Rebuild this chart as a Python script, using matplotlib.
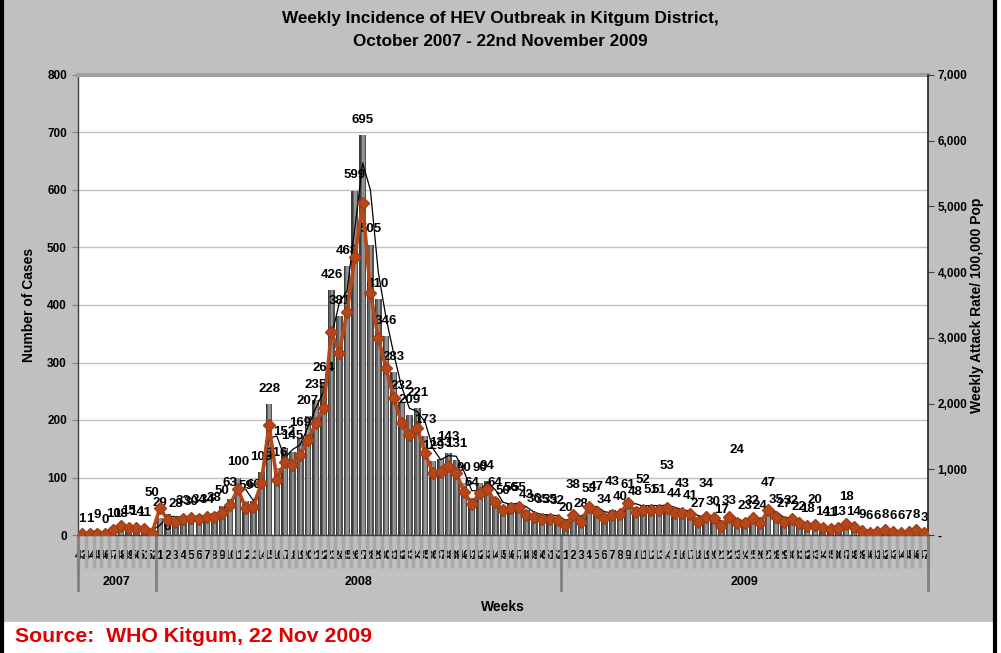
import numpy as np
import pandas as pd
import matplotlib
matplotlib.use("Agg")
import matplotlib.pyplot as plt
from matplotlib.colors import LinearSegmentedColormap
from matplotlib.patches import Rectangle
from matplotlib.lines import Line2D
import matplotlib.transforms as mtransforms

plt.rcParams['font.family'] = ['Liberation Sans', 'DejaVu Sans']

# ---------------- data ----------------
years = ["2007", "2008", "2009"]
weeks_2007 = list(range(43, 53))
weeks_2008 = list(range(1, 53))
weeks_2009 = list(range(1, 48))

cases_2007 = [1, 1, 9, 0, 10, 18, 15, 14, 11, 5]
cases_2008 = [29, 36, 28, 33, 30, 34, 34, 38, 50, 63,
              100, 59, 60, 109, 228, 116, 152, 145, 169, 207,
              235, 264, 426, 381, 468, 599, 695, 505, 410, 346,
              283, 232, 209, 221, 173, 129, 133, 143, 131, 90,
              64, 90, 94, 64, 50, 56, 55, 43, 36, 35,
              35, 32]
cases_2009 = [20, 38, 28, 53, 47, 34, 43, 40, 61, 48,
              52, 51, 51, 53, 44, 43, 41, 27, 34, 30,
              17, 33, 24, 23, 32, 24, 47, 35, 27, 32,
              22, 18, 20, 14, 11, 13, 18, 14, 9, 6,
              6, 8, 6, 6, 7, 8, 3]

attack_2007 = [15, 15, 15, 15, 76, 137, 107, 107, 91, 30]
attack_2008 = [411, 228, 198, 243, 259, 243, 274, 274, 335, 457,
               700, 411, 426, 791, 1674, 837, 1111, 1065, 1218, 1440,
               1704, 1933, 3089, 2770, 3393, 4230, 5052, 3683, 2998, 2541,
               2085, 1704, 1522, 1628, 1248, 944, 959, 1050, 944, 654,
               472, 639, 700, 502, 380, 411, 426, 304, 274, 243,
               243, 228]
attack_2009 = [152, 304, 198, 426, 350, 259, 304, 320, 487, 350,
               380, 380, 380, 411, 335, 335, 320, 198, 274, 259,
               137, 274, 183, 183, 259, 183, 380, 274, 198, 243,
               183, 137, 152, 107, 91, 107, 167, 122, 61, 30,
               46, 76, 46, 30, 46, 76, 30]

# labels that were moved by hand in the original: index -> (text, extra offset in points)
label_overrides = {5: ("18", -3), 9: ("50", 17), 11: ("6", -20), 63: ("38", 9),
                   66: ("47", 4), 68: ("43", 9), 72: ("52", 7), 75: ("53", 17),
                   77: ("43", 8), 80: ("34", 12), 84: ("24", 40), 88: ("47", 7),
                   94: ("20", 6), 98: ("18", 9)}

week_labels = weeks_2007 + weeks_2008 + weeks_2009
cases = np.array(cases_2007 + cases_2008 + cases_2009, dtype=float)
attack = np.array(attack_2007 + attack_2008 + attack_2009, dtype=float)
n = len(cases)
x = np.arange(n)
year_bounds = [0, len(weeks_2007), len(weeks_2007) + len(weeks_2008), n]

# ---------------- figure ----------------
W, H = 1001, 653
fig = plt.figure(figsize=(W / 100, H / 100), dpi=100, facecolor="white")
fig.add_artist(Rectangle((4 / W, 1 - 622 / H), (993 - 4) / W, 622 / H,
                         transform=fig.transFigure, facecolor="#C0C0C0",
                         edgecolor="none", zorder=-10))
fig.add_artist(Line2D([2 / W, 2 / W], [0, 1], color="black", lw=3, transform=fig.transFigure))
fig.add_artist(Line2D([995 / W, 995 / W], [0, 1], color="black", lw=3, transform=fig.transFigure))

L, R, T, B = 78, 928, 75, 535
ax = fig.add_axes([L / W, 1 - B / H, (R - L) / W, (B - T) / H])
ax.set_facecolor("white")

# bars: solid dark base plus cylindrical highlight slices on top
bw = 0.86
ax.bar(x, cases, width=bw, color="#4a4a4a", edgecolor="none", linewidth=0, zorder=2)
cmap = LinearSegmentedColormap.from_list(
    "cyl", [(0, "#2a2a2a"), (0.35, "#6c6c6c"), (0.6, "#b0b0b0"), (0.85, "#606060"), (1, "#2e2e2e")])
k = 5
for j in range(k):
    off = -bw / 2 + (j + 0.5) * bw / k
    ax.bar(x + off, cases, width=bw / k, color=cmap((j + 0.5) / k),
           edgecolor="none", linewidth=0, zorder=2.1)

# 2-period moving average trendline of cases
ma = pd.Series(cases).rolling(2).mean()
ax.plot(x, ma, color="black", lw=0.9, zorder=4)

ax.set_xlim(-0.5, n - 0.5)
ax.set_ylim(0, 800)
ax.set_yticks(np.arange(0, 801, 100))
ax.yaxis.grid(True, color="#C0C0C0", lw=1)
ax.set_axisbelow(True)
for lab in ax.get_yticklabels():
    lab.set_fontweight("bold")
ax.tick_params(axis="y", labelsize=8.5, length=4, color="#808080", pad=4)

# data labels
for xi, v in zip(x, cases):
    text, dy = label_overrides.get(xi, (f"{int(v)}", 0))
    ax.annotate(text, (xi, v), xytext=(0, 11 + dy), textcoords="offset points",
                ha="center", va="center", fontsize=9.5, fontweight="bold",
                color="black", zorder=6, annotation_clip=False)

# x axis: week numbers
ax.set_xticks(x)
ax.set_xticklabels([str(w) for w in week_labels], fontsize=9, fontweight="bold")
ax.tick_params(axis="x", which="major", length=0, pad=11)
ax.set_xticks(np.arange(-0.5, n, 1), minor=True)
ax.tick_params(axis="x", which="minor", length=24, width=2.5, color="#A8A8A8", direction="out")

for side in ["left", "bottom"]:
    ax.spines[side].set_color("#404040")
    ax.spines[side].set_linewidth(1)
ax.spines["top"].set_color("#A0A0A0")
ax.spines["top"].set_linewidth(3)
ax.spines["right"].set_visible(False)

# year row
trans = mtransforms.blended_transform_factory(ax.transData, ax.transAxes)
axh = B - T
for kk in range(4):
    xb = year_bounds[kk] - 0.5
    ax.plot([xb, xb], [0, -(590 - B) / axh], color="#808080", lw=2,
            transform=trans, clip_on=False, zorder=1)
for kk, yr in enumerate(years):
    xm = (year_bounds[kk] + year_bounds[kk + 1] - 1) / 2
    ax.text(xm, -(582 - B) / axh, yr, transform=trans, ha="center", va="center",
            fontsize=9, fontweight="bold")

ax.set_ylabel("Number of Cases", fontsize=10, fontweight="bold", labelpad=8)
fig.text((L + R) / 2 / W, 1 - 607 / H, "Weeks", ha="center", va="center",
         fontsize=10, fontweight="bold")

# right axis: attack rate
ax2 = ax.twinx()
ax2.plot(x, attack, color="#B5471A", lw=2.6, marker="D", markersize=6,
         markeredgecolor="#A33E14", zorder=5)
ax2.set_ylim(0, 7000)
ax2.set_yticks(np.arange(0, 7001, 1000))
ax2.set_yticklabels(["-"] + [f"{v:,}" for v in range(1000, 7001, 1000)],
                    fontsize=8.5, fontweight="bold")
ax2.tick_params(axis="y", length=4, color="#404040", pad=3)
ax2.spines["right"].set_color("#202020")
ax2.spines["right"].set_linewidth(1.2)
for s in ["top", "left", "bottom"]:
    ax2.spines[s].set_visible(False)
ax2.set_ylabel("Weekly Attack Rate/ 100,000 Pop", fontsize=10, fontweight="bold", labelpad=2)
ax.set_zorder(1)
ax2.set_zorder(2)
ax2.patch.set_visible(False)

fig.text(0.5, 1 - 18 / H, "Weekly Incidence of HEV Outbreak in Kitgum District,",
         ha="center", va="center", fontsize=12.3, fontweight="bold")
fig.text(0.5, 1 - 42 / H, "October 2007 - 22nd November 2009",
         ha="center", va="center", fontsize=12.3, fontweight="bold")

fig.text(15 / W, 1 - 637 / H, "Source:  WHO Kitgum, 22 Nov 2009", ha="left", va="center",
         fontsize=15.3, fontweight="bold", color="#E00000")

fig.savefig("out.png", dpi=100, facecolor=fig.get_facecolor())
